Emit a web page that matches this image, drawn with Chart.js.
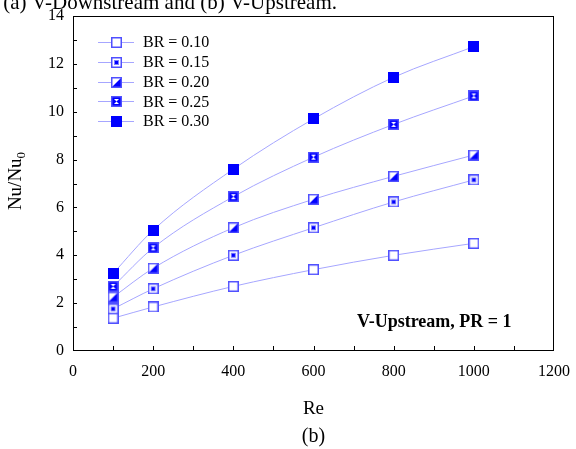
<!DOCTYPE html>
<html>
<head>
<meta charset="utf-8">
<script src="https://cdn.jsdelivr.net/npm/chart.js@4"></script>
<style>
html,body{margin:0;padding:0;background:#fff;}
canvas{display:block;}
</style>
</head>
<body>
<canvas id="c" width="576" height="449"></canvas>
<script>
// ---- data ----
const re = [100, 200, 400, 600, 800, 1000];
const br010 = [1.37, 1.84, 2.70, 3.40, 4.00, 4.50];
const br015 = [1.76, 2.60, 4.00, 5.15, 6.23, 7.15];
const br020 = [2.25, 3.46, 5.15, 6.34, 7.30, 8.19];
const br025 = [2.70, 4.31, 6.45, 8.10, 9.47, 10.66];
const br030 = [3.24, 5.05, 7.60, 9.70, 11.44, 12.72];
const seriesLabels = ['BR = 0.10', 'BR = 0.15', 'BR = 0.20', 'BR = 0.25', 'BR = 0.30'];
const xTicks = [0, 200, 400, 600, 800, 1000, 1200];
const yTicks = [0, 2, 4, 6, 8, 10, 12, 14];

const SERIF = '"Liberation Serif", "Times New Roman", serif';
const BLUE = '#0000ff';
const LINE = '#a6a6ff';
const EDGE = '#5050ff';

function marker(kind) {
  const s = 11;
  const c = document.createElement('canvas');
  c.width = s; c.height = s;
  const g = c.getContext('2d');
  g.fillStyle = '#fff';
  g.fillRect(1, 1, s - 2, s - 2);
  if (kind === 1) {
    g.strokeStyle = '#8080ff'; g.lineWidth = 1;
    g.strokeRect(3.5, 3.5, 4, 4);
    g.fillStyle = BLUE; g.fillRect(4, 4, 3, 3);
  } else if (kind === 2) {
    g.fillStyle = BLUE;
    g.beginPath(); g.moveTo(s - 1, 1); g.lineTo(s - 1, s - 1); g.lineTo(1, s - 1); g.closePath(); g.fill();
  } else if (kind === 3) {
    g.fillStyle = BLUE;
    g.fillRect(1, 1, s - 2, s - 2);
    g.fillStyle = '#fff';
    g.beginPath(); g.moveTo(3, 3); g.lineTo(8, 3); g.lineTo(5.5, 5.5); g.closePath(); g.fill();
    g.beginPath(); g.moveTo(3, 8); g.lineTo(8, 8); g.lineTo(5.5, 5.5); g.closePath(); g.fill();
  } else if (kind === 4) {
    g.fillStyle = BLUE; g.fillRect(0, 0, s, s);
  }
  g.strokeStyle = kind === 4 ? BLUE : EDGE;
  g.lineWidth = 1.5;
  g.strokeRect(0.75, 0.75, s - 1.5, s - 1.5);
  return c;
}

const seriesValues = [br010, br015, br020, br025, br030];
const datasets = seriesValues.map((vals, i) => ({
  label: seriesLabels[i],
  data: re.map((x, j) => ({x: x, y: vals[j]})),
  borderColor: LINE,
  borderWidth: 1,
  tension: 0.4,
  cubicInterpolationMode: 'monotone',
  pointStyle: marker(i),
  pointRadius: 5.5,
  pointHoverRadius: 5.5,
  fill: false
}));

const decor = {
  id: 'decor',
  afterDraw(chart) {
    const ctx = chart.ctx;
    const a = chart.chartArea;
    const xs = chart.scales.x, ys = chart.scales.y;
    ctx.save();
    // frame
    ctx.strokeStyle = '#000'; ctx.lineWidth = 1;
    ctx.strokeRect(Math.round(a.left) + 0.5, Math.round(a.top) + 0.5, Math.round(a.right - a.left) - 1, Math.round(a.bottom - a.top) - 1);
    // inward ticks
    ctx.beginPath();
    for (let v = 100; v < 1200; v += 100) {
      const px = Math.round(xs.getPixelForValue(v)) + 0.5;
      ctx.moveTo(px, a.bottom); ctx.lineTo(px, a.bottom - 5);
    }
    for (let v = 1; v < 14; v += 1) {
      const py = Math.round(ys.getPixelForValue(v)) + 0.5;
      ctx.moveTo(a.left, py); ctx.lineTo(a.left + 4, py);
    }
    ctx.stroke();
    // axis titles
    ctx.fillStyle = '#000';
    ctx.textAlign = 'center'; ctx.textBaseline = 'alphabetic';
    ctx.font = '19px ' + SERIF;
    ctx.fillText('Re', (a.left + a.right) / 2, 414);
    ctx.font = '20px ' + SERIF;
    ctx.fillText('(b)', (a.left + a.right) / 2, 442);
    // y title with subscript
    ctx.save();
    ctx.translate(21, 181);
    ctx.rotate(-Math.PI / 2);
    ctx.font = '19px ' + SERIF;
    const main = 'Nu/Nu';
    const wMain = ctx.measureText(main).width;
    ctx.font = '13px ' + SERIF;
    const wSub = ctx.measureText('0').width;
    const start = -(wMain + wSub) / 2;
    ctx.textAlign = 'left';
    ctx.font = '19px ' + SERIF;
    ctx.fillText(main, start, 0);
    ctx.font = '13px ' + SERIF;
    ctx.fillText('0', start + wMain, 4);
    ctx.restore();
    // annotation
    ctx.font = 'bold 18px ' + SERIF;
    ctx.textAlign = 'left'; ctx.textBaseline = 'middle';
    ctx.fillText('V-Upstream, PR = 1', 357, 322);
    // cut-off caption at top
    ctx.font = '21px ' + SERIF;
    ctx.textAlign = 'right'; ctx.textBaseline = 'alphabetic';
    ctx.fillText('(a) V-Downstream and (b) V-Upstream.', 337, 9);
    // legend
    ctx.font = '16px ' + SERIF;
    ctx.textAlign = 'left'; ctx.textBaseline = 'middle';
    chart.data.datasets.forEach((ds, i) => {
      const y = 42 + 19.8 * i;
      ctx.strokeStyle = LINE; ctx.lineWidth = 1;
      ctx.beginPath(); ctx.moveTo(98, Math.round(y) + 0.5); ctx.lineTo(134, Math.round(y) + 0.5); ctx.stroke();
      const img = ds.pointStyle;
      ctx.drawImage(img, Math.round(116 - img.width / 2), Math.round(y - img.height / 2 + 0.5));
      ctx.fillStyle = '#000';
      ctx.fillText(ds.label, 143, y + 1);
    });
    ctx.restore();
  }
};

new Chart(document.getElementById('c'), {
  type: 'line',
  data: {datasets: datasets},
  options: {
    responsive: false,
    animation: false,
    events: [],
    layout: {padding: {top: 16, right: 22, left: 0, bottom: 0}},
    plugins: {legend: {display: false}, tooltip: {enabled: false}, title: {display: false}},
    scales: {
      x: {
        type: 'linear', min: 0, max: 1200,
        afterBuildTicks(s) { s.ticks = xTicks.map(v => ({value: v})); },
        afterFit(s) { s.height = 98; s.paddingRight = 0; s.paddingLeft = 0; },
        grid: {display: false, drawTicks: false},
        border: {display: false},
        ticks: {color: '#000', font: {family: SERIF, size: 16}, padding: 11, maxRotation: 0, autoSkip: false,
                callback: v => String(v)}
      },
      y: {
        type: 'linear', min: 0, max: 14,
        afterBuildTicks(s) { s.ticks = yTicks.map(v => ({value: v})); },
        afterFit(s) { s.width = 73; s.paddingTop = 0; s.paddingBottom = 0; },
        grid: {display: false, drawTicks: false},
        border: {display: false},
        ticks: {color: '#000', font: {family: SERIF, size: 16}, padding: 9, autoSkip: false,
                callback: v => String(v)}
      }
    }
  },
  plugins: [decor]
});
</script>
</body>
</html>
